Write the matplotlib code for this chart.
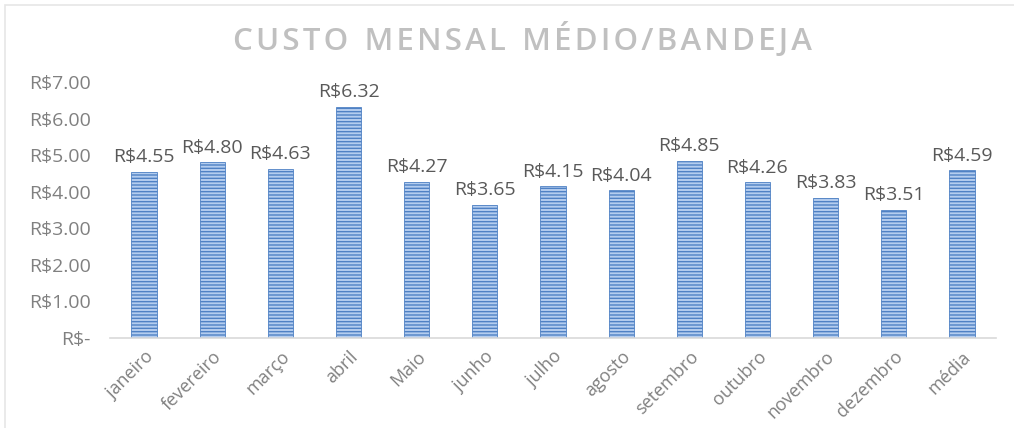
import matplotlib
matplotlib.use('Agg')
import matplotlib.pyplot as plt
from matplotlib.patches import Rectangle

meses = ['janeiro', 'fevereiro', 'março', 'abril', 'Maio', 'junho', 'julho',
         'agosto', 'setembro', 'outubro', 'novembro', 'dezembro', 'média']
custos = [4.55, 4.80, 4.63, 6.32, 4.27, 3.65, 4.15, 4.04, 4.85, 4.26, 3.83, 3.51, 4.59]
y_ticks = [0, 1, 2, 3, 4, 5, 6, 7]
titulo = 'CUSTO MENSAL MÉDIO/BANDEJA'

plt.rcParams['font.family'] = ['Open Sans', 'DejaVu Sans']
plt.rcParams['hatch.linewidth'] = 1.0

fig = plt.figure(figsize=(10.14, 4.28), dpi=100)
ax = fig.add_axes([110 / 1014, 90 / 428, 886 / 1014, 256 / 428])

# moldura do gráfico
fig.patches.append(Rectangle((5 / 1014, -0.01), 1.1, 1 - 5 / 428 + 0.01,
                             transform=fig.transFigure, fill=False,
                             edgecolor='#e6e6e6', linewidth=1.2))

x = range(len(meses))
bars = ax.bar(x, custos, width=0.37, color='#b4cdef', edgecolor='#4f81c4',
              linewidth=0.6, hatch='-----')

for b, v in zip(bars, custos):
    ax.text(b.get_x() + b.get_width() / 2, v + 0.15, 'R$%.2f' % v,
            ha='center', va='bottom', fontsize=14, color='#595959')

ax.set_xlim(-0.5, len(meses) - 0.5)
ax.set_ylim(0, 7)
ax.set_yticks(y_ticks)
ax.set_yticklabels(['R$-'] + ['R$%.2f' % t for t in y_ticks[1:]],
                   fontsize=14, color='#808080')
ax.set_xticks(list(x))
ax.set_xticklabels(meses, rotation=45, ha='right', rotation_mode='anchor',
                   fontsize=13, color='#808080')
ax.tick_params(axis='x', length=0, pad=7)
ax.tick_params(axis='y', length=0, pad=14)
for s in ['top', 'right', 'left']:
    ax.spines[s].set_visible(False)
ax.spines['bottom'].set_color('#d9d9d9')
ax.spines['bottom'].set_linewidth(1.2)

# título com espaçamento entre letras
espacado = '\u200a'.join(titulo).replace('\u200a \u200a', '  ')
fig.text(522 / 1014, 1 - 40 / 428, espacado,
         ha='center', va='center', fontsize=22.5, color='#c0c0c0', fontweight='semibold')

fig.savefig('out.png', dpi=100)
